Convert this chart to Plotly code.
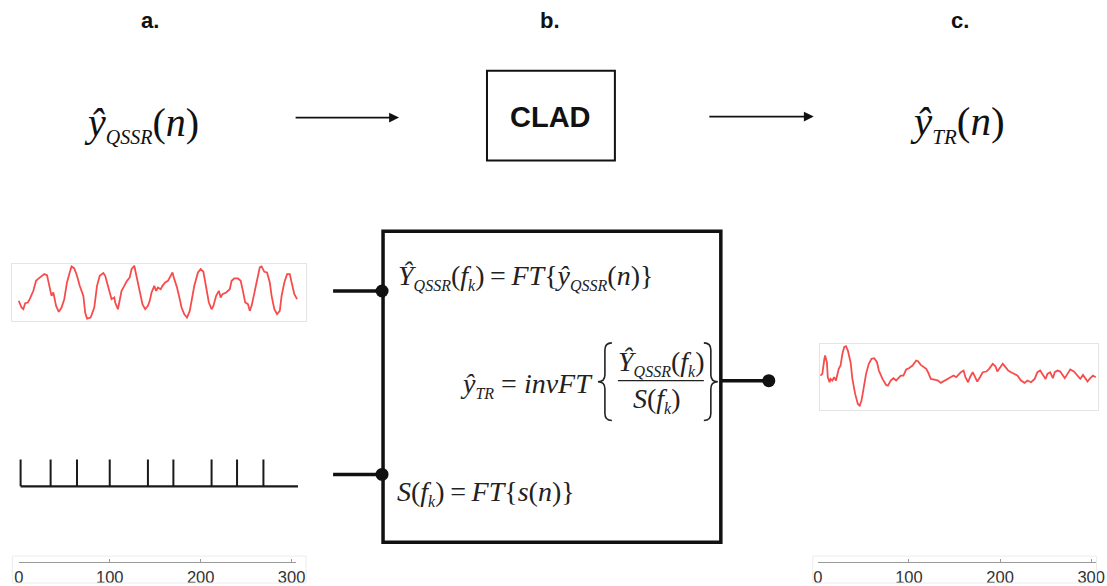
import plotly.graph_objects as go

# ---------------------------------------------------------------- data
# (a) QSSR estimate of the signal, sample index n and amplitude
qssr_n = [0, 3, 5, 7, 10, 12, 16, 19, 21, 25,
          28, 31, 34, 36, 38, 39, 41, 44, 47, 50,
          53, 56, 58, 61, 64, 67, 71, 73, 75, 79,
          83, 86, 89, 93, 95, 98, 102, 105, 106, 109,
          111, 113, 116, 119, 122, 124, 127, 129, 131, 134,
          136, 139, 142, 144, 146, 149, 151, 153, 156, 158,
          161, 164, 166, 169, 171, 174, 177, 179, 182, 185,
          188, 190, 193, 197, 200, 203, 206, 209, 212, 214,
          217, 220, 222, 224, 228, 232, 234, 237, 241, 244,
          246, 249, 252, 254, 256, 259, 262, 265, 267, 270,
          273, 276, 278, 281, 284, 287, 289, 292, 295, 298,
          300, 303, 306]
qssr_val = [0.45, 0.25, 0.20, 0.38, 0.40, 0.50, 0.75, 1.05, 1.10, 1.20,
            1.25, 1.22, 0.90, 0.60, 0.70, 0.55, 0.30, 0.12, 0.25, 0.50,
            1.00, 1.30, 1.48, 1.42, 1.20, 0.90, 0.60, 0.10, -0.08, -0.05,
            0.25, 0.90, 1.20, 1.28, 1.20, 0.90, 0.50, 0.55, 0.40, 0.20,
            0.45, 0.75, 0.90, 1.05, 1.15, 1.40, 1.50, 1.25, 0.90, 0.60,
            0.35, 0.20, 0.30, 0.45, 0.70, 0.90, 0.75, 0.85, 0.80, 0.90,
            1.00, 1.05, 1.15, 1.30, 1.10, 0.85, 0.50, 0.25, 0.05, -0.05,
            0.15, 0.50, 0.90, 1.30, 1.40, 1.32, 0.90, 0.40, 0.20, 0.30,
            0.60, 0.75, 0.55, 0.65, 0.70, 0.80, 1.05, 1.12, 1.12, 1.05,
            0.80, 0.40, 0.35, 0.15, 0.30, 0.70, 1.10, 1.45, 1.48, 1.32,
            1.30, 1.00, 0.60, 0.20, 0.05, 0.15, 0.60, 1.00, 1.25, 1.25,
            1.00, 0.65, 0.50]

# (a) impulse train s(n): impulse positions and the span of its baseline
spike_n = [2, 35, 64, 100, 142, 170, 212, 240, 269]
spike_base = [2, 307]

# (c) CLAD output, sample index n and amplitude
tr_n = [3, 5, 7, 8, 10, 11, 13, 14, 16, 18,
        20, 22, 23, 25, 27, 29, 31, 33, 36, 38,
        41, 44, 46, 48, 50, 53, 56, 59, 62, 65,
        67, 71, 75, 77, 80, 83, 86, 88, 91, 94,
        97, 100, 104, 108, 110, 113, 116, 119, 121, 124,
        128, 132, 135, 139, 143, 146, 149, 152, 154, 157,
        160, 162, 165, 167, 170, 173, 175, 178, 181, 185,
        188, 192, 195, 197, 200, 203, 206, 209, 212, 216,
        219, 223, 227, 230, 234, 238, 241, 244, 247, 250,
        252, 255, 258, 260, 263, 266, 269, 271, 274, 277,
        281, 285, 288, 291, 293, 296, 299, 302, 305]
tr_val = [0.60, 0.65, 1.05, 1.20, 1.00, 0.55, 0.40, 0.50, 0.45, 0.55,
          0.45, 0.75, 0.80, 0.90, 1.25, 1.45, 1.48, 1.35, 1.00, 0.50,
          0.05, -0.25, -0.30, -0.15, 0.20, 0.65, 0.95, 1.10, 1.12, 1.00,
          0.75, 0.50, 0.32, 0.30, 0.45, 0.52, 0.45, 0.52, 0.60, 0.60,
          0.78, 0.82, 0.90, 1.05, 1.03, 0.92, 0.85, 0.80, 0.70, 0.50,
          0.48, 0.45, 0.38, 0.45, 0.52, 0.55, 0.60, 0.55, 0.62, 0.70,
          0.75, 0.55, 0.40, 0.55, 0.70, 0.55, 0.42, 0.55, 0.70, 0.72,
          0.80, 0.95, 0.88, 0.72, 0.82, 0.95, 0.85, 0.75, 0.70, 0.65,
          0.60, 0.45, 0.38, 0.45, 0.40, 0.50, 0.70, 0.75, 0.62, 0.50,
          0.65, 0.70, 0.52, 0.70, 0.75, 0.72, 0.60, 0.52, 0.65, 0.78,
          0.72, 0.60, 0.50, 0.62, 0.55, 0.42, 0.52, 0.60, 0.55]

# sample-axis ticks under panels a and c
sample_ticks = [0, 100, 200, 300]
sample_labels = ["0", "100", "200", "300"]

# ---------------------------------------------------------------- helpers
W, H = 1107, 586
# horizontal page calibration: drawn x = X0 + XS * requested x
X0, XS = 3.7, 0.988
RED = "rgba(245,45,45,0.85)"
INK = "#111111"
SERIF = "Liberation Serif, Times New Roman, Times, serif"
SANS = "Liberation Sans, Arial, Helvetica, sans-serif"
THIN = "\u2009"


def cx(x):
    return min(max((x - X0) / XS, 0.0), float(W))


def sample_axis(left, right, origin, step):
    """Domain and range of a sample-index axis whose n=0 sits at pixel
    `origin` and which advances `step` pixels per sample."""
    a, b = cx(left), cx(right)
    ta, tb = X0 + XS * a, X0 + XS * b
    return dict(domain=[a / W, b / W],
                range=[(ta - origin) / step, (tb - origin) / step])


def dom_y(top, bottom):
    return [1 - bottom / H, 1 - top / H]


def sub(s, size):
    return f"<sub><span style='font-size:{size}px'><i>{s}</i></span></sub>"


def brace(x_tip, x_end, y0, y1, h=7):
    """SVG path of a curly brace; x_tip < x_end gives '{', otherwise '}'."""
    xm = (x_tip + x_end) / 2
    ym = (y0 + y1) / 2
    return (f"M{x_end},{y0} Q{xm},{y0} {xm},{y0 + h} L{xm},{ym - h} "
            f"Q{xm},{ym} {x_tip},{ym} Q{xm},{ym} {xm},{ym + h} "
            f"L{xm},{y1 - h} Q{xm},{y1} {x_end},{y1}")


fig = go.Figure()

# panel a: QSSR signal
fig.add_trace(go.Scatter(x=qssr_n, y=qssr_val, xaxis="x2", yaxis="y2",
                         mode="lines", line=dict(color=RED, width=1.8)))

# panel a: impulse train
stem_x, stem_y = [], []
for t in spike_n:
    stem_x += [t, t, None]
    stem_y += [0, 1, None]
fig.add_trace(go.Scatter(x=stem_x, y=stem_y, xaxis="x3", yaxis="y3",
                         mode="lines", line=dict(color="#1a1a1a", width=2)))
fig.add_trace(go.Scatter(x=spike_base, y=[0, 0], xaxis="x3", yaxis="y3",
                         mode="lines", line=dict(color="#1a1a1a", width=2.2)))

# panel c: CLAD output
fig.add_trace(go.Scatter(x=tr_n, y=tr_val, xaxis="x6", yaxis="y6",
                         mode="lines", line=dict(color=RED, width=1.8)))

# empty traces so the sample-scale axes and the drawing canvas exist
for xa, ya in (("x4", "y4"), ("x5", "y5"), ("x", "y")):
    fig.add_trace(go.Scatter(x=[], y=[], xaxis=xa, yaxis=ya, mode="lines"))

frame = dict(showline=True, mirror=True, linecolor="#e4e4e4", linewidth=1,
             showgrid=False, zeroline=False, showticklabels=False, ticks="",
             fixedrange=True)
hidden = dict(visible=False, showgrid=False, zeroline=False, fixedrange=True)
scale = dict(showline=True, linecolor="#9a9a9a", linewidth=1, ticks="inside",
             ticklen=3, tickcolor="#9a9a9a", tickvals=sample_ticks,
             ticktext=sample_labels, showgrid=False, zeroline=False,
             tickfont=dict(family=SANS, size=16.5, color="#333333"),
             fixedrange=True)

A0, AK = 17.5, 0.91      # panel a: pixel of n=0, pixels per sample
C0, CK = 817.0, 0.912    # panel c: pixel of n=0, pixels per sample

fig.update_layout(
    width=W, height=H, autosize=False,
    margin=dict(l=0, r=0, t=0, b=0),
    paper_bgcolor="white", plot_bgcolor="rgba(0,0,0,0)",
    showlegend=False,
    # full-page drawing canvas in pixel units
    xaxis=dict(domain=[0, 1], range=[X0, X0 + XS * W], **hidden),
    yaxis=dict(domain=[0, 1], range=[H, 0], **hidden),
    # panel a signal
    xaxis2=dict(anchor="y2", **sample_axis(11, 305, A0, AK), **frame),
    yaxis2=dict(domain=dom_y(265, 322), range=[-0.15, 1.55], anchor="x2", **frame),
    # panel a impulses
    xaxis3=dict(anchor="y3", **sample_axis(11, 305, A0, AK), **hidden),
    yaxis3=dict(domain=dom_y(455, 494), range=[-0.222, 1.222], anchor="x3", **hidden),
    # panel a sample scale
    xaxis4=dict(anchor="y4", **sample_axis(A0, 295, A0, AK), **scale),
    yaxis4=dict(domain=dom_y(558, 564), range=[0, 1], anchor="x4", **hidden),
    # panel c sample scale
    xaxis5=dict(anchor="y5", **sample_axis(C0, 1096, C0, CK), **scale),
    yaxis5=dict(domain=dom_y(558, 564), range=[0, 1], anchor="x5", **hidden),
    # panel c signal
    xaxis6=dict(anchor="y6", **sample_axis(819, 1102, C0, CK), **frame),
    yaxis6=dict(domain=dom_y(345, 411), range=[-0.42, 1.55], anchor="x6", **frame),
)

shapes = []


def line(x0, y0, x1, y1, width, color=INK):
    shapes.append(dict(type="line", xref="x", yref="y", x0=x0, y0=y0, x1=x1,
                       y1=y1, line=dict(color=color, width=width)))


def dot(x, y, r=6.5):
    shapes.append(dict(type="circle", xref="x", yref="y", x0=x - r, y0=y - r,
                       x1=x + r, y1=y + r, fillcolor=INK,
                       line=dict(color=INK, width=0)))


def rect(x0, y0, x1, y1, width, color=INK):
    shapes.append(dict(type="rect", xref="x", yref="y", x0=x0, y0=y0, x1=x1,
                       y1=y1, line=dict(color=color, width=width)))


def path(d, width=1.6, color="#222222"):
    shapes.append(dict(type="path", xref="x", yref="y", path=d,
                       line=dict(color=color, width=width)))


# CLAD block and the processing box
rect(486, 71, 614, 161, 2)
rect(382, 232, 720, 544, 3.5)
# light frames round the sample scales
rect(11, 558, 305, 585, 1, "#ececec")
rect(812, 558, 1096, 585, 1, "#ececec")
# input / output connectors
line(332, 292, 382, 292, 3.5)
line(332, 476, 382, 476, 3.5)
line(720, 382, 768, 382, 3.5)
dot(381, 292)
dot(381, 476)
dot(768, 382)
# braces and fraction bar of the inverse-transform formula
path(brace(597, 611, 344, 422))
path(brace(717, 703, 344, 422))
line(617, 382, 703, 382, 1.2, "#222222")

annotations = []


def text(x, y, s, size, family=SERIF, color=INK, xanchor="left", bold=False):
    if bold:
        s = f"<b>{s}</b>"
    annotations.append(dict(x=x, y=y, xref="x", yref="y", text=s,
                            showarrow=False, xanchor=xanchor, yanchor="middle",
                            font=dict(family=family, size=size, color=color)))


def arrow(x0, x1, y):
    annotations.append(dict(x=x1, y=y, ax=x0, ay=y, xref="x", yref="y",
                            axref="x", ayref="y", text="", showarrow=True,
                            arrowhead=2, arrowsize=1.1, arrowwidth=1.8,
                            arrowcolor=INK, standoff=0, startstandoff=0))


# panel letters
text(149, 21, "a.", 22, SANS, xanchor="center", bold=True)
text(549, 21, "b.", 22, SANS, xanchor="center", bold=True)
text(959, 21, "c.", 22, SANS, xanchor="center", bold=True)

# top row: input -> CLAD -> output
text(81, 124, "<i>ŷ</i>" + sub("QSSR", 20) + "(<i>n</i>)", 40)
arrow(293, 398, 118)
text(550, 117, "CLAD", 29, SANS, xanchor="center", bold=True)
arrow(707, 813, 117)
text(907, 124, "<i>ŷ</i>" + sub("TR", 21) + "(<i>n</i>)", 41)

# formulas inside the processing box
F, FS = 28, 16
EQ = THIN + "=" + THIN
text(395, 278, "<i>Ŷ</i>" + sub("QSSR", FS) + "(<i>f</i>" + sub("k", FS) +
     ")" + EQ + "<i>FT</i>{<i>ŷ</i>" + sub("QSSR", FS) +
     "(<i>n</i>)}", F, color="#222222")
text(594, 386, "<i>ŷ</i>" + sub("TR", FS) + " = <i>invFT</i>", F,
     color="#222222", xanchor="right")
text(660, 364, "<i>Ŷ</i>" + sub("QSSR", FS) + "(<i>f</i>" + sub("k", FS) + ")",
     F, color="#222222", xanchor="center")
text(656, 401, "<i>S</i>(<i>f</i>" + sub("k", FS) + ")", F, color="#222222",
     xanchor="center")
text(394, 495, "<i>S</i>(<i>f</i>" + sub("k", FS) + ")" + EQ + "<i>FT</i>" +
     "{<i>s</i>(<i>n</i>)}", F, color="#222222")

fig.update_layout(shapes=shapes, annotations=annotations)
fig.write_html("out.html")
